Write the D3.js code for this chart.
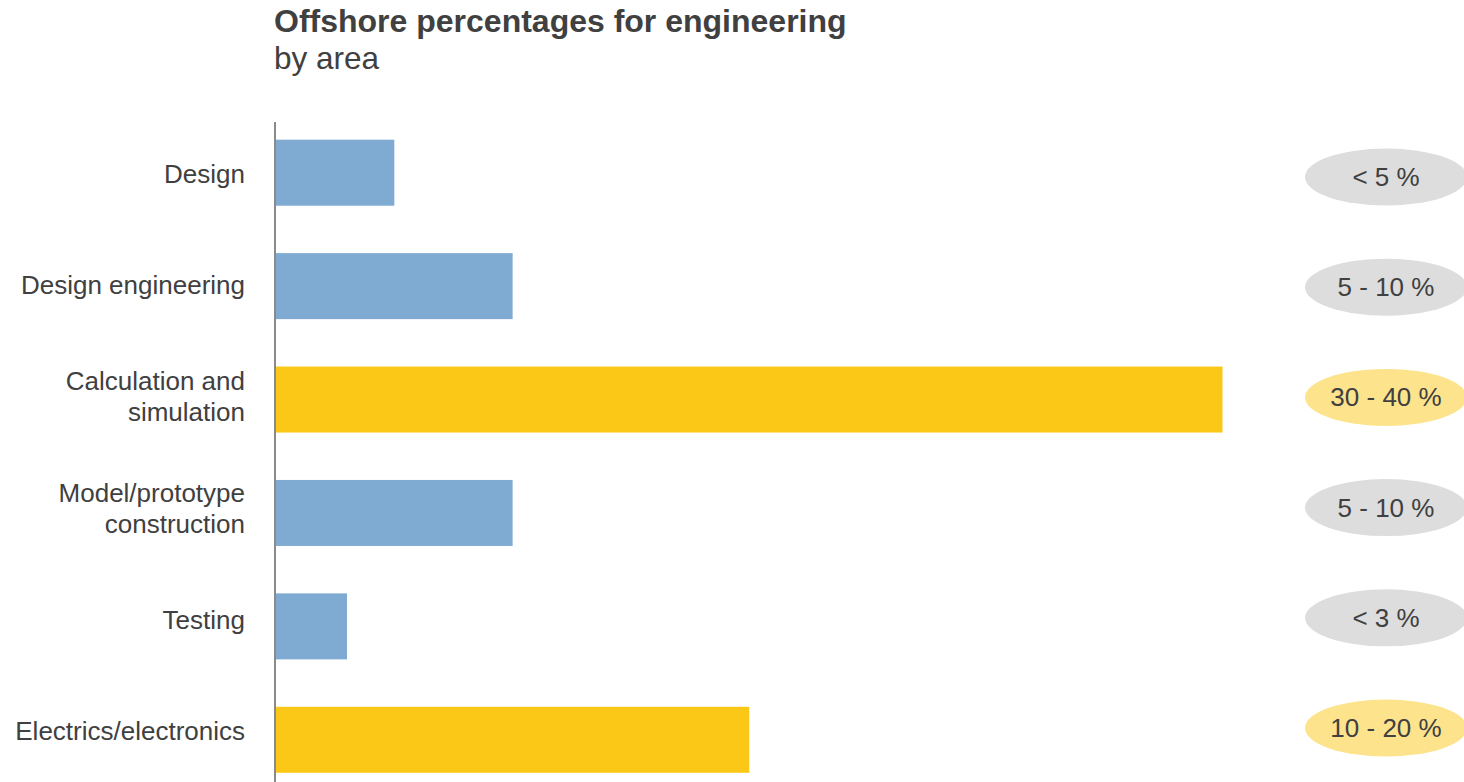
<!DOCTYPE html>
<html>
<head>
<meta charset="utf-8">
<script src="https://cdn.jsdelivr.net/npm/d3@7"></script>
<style>
  html, body { margin: 0; padding: 0; background: #ffffff; }
  svg { display: block; font-family: "Liberation Sans", Arial, sans-serif; }
</style>
</head>
<body>
<svg id="chart" width="1464" height="782"></svg>
<script>
// ---- data ----
const categories = [
  "Design",
  "Design engineering",
  "Calculation and simulation",
  "Model/prototype construction",
  "Testing",
  "Electrics/electronics"
];
const labelLines = [
  ["Design"],
  ["Design engineering"],
  ["Calculation and", "simulation"],
  ["Model/prototype", "construction"],
  ["Testing"],
  ["Electrics/electronics"]
];
const values = [5, 10, 40, 10, 3, 20];          // upper bound of offshore share, %
const rangeLabels = ["< 5 %", "5 - 10 %", "30 - 40 %", "5 - 10 %", "< 3 %", "10 - 20 %"];
const highlighted = [false, false, true, false, false, true];
const title = "Offshore percentages for engineering";
const subtitle = "by area";

// ---- styles ----
const textColor = "#404040";
const barBlue = "#7FAAD2";
const barYellow = "#FCC817";
const pillGray = "#DDDDDD";
const pillYellow = "#FDE38C";

const svg = d3.select("#chart");
const W = 1464, H = 782;
svg.append("rect").attr("width", W).attr("height", H).attr("fill", "#fff");

// title
svg.append("text").attr("x", 274).attr("y", 32)
  .attr("font-size", 32).attr("font-weight", "bold").attr("fill", textColor)
  .text(title);
svg.append("text").attr("x", 274).attr("y", 69)
  .attr("font-size", 31.5).attr("fill", textColor)
  .text(subtitle);

// scales
const x = d3.scaleLinear().domain([0, 40]).range([276, 1222.5]);
const y = d3.scaleBand().domain(categories).range([116, 796.5])
  .paddingInner(0.418).paddingOuter(0.209);
const yLabel = d3.scalePoint().domain(categories).range([174, 731]);
const yPill = d3.scalePoint().domain(categories).range([177, 728]);

const rows = categories.map((c, i) => ({
  cat: c, lines: labelLines[i], value: values[i], range: rangeLabels[i], hi: highlighted[i]
}));

// bars
svg.append("g").selectAll("rect").data(rows).join("rect")
  .attr("x", x(0))
  .attr("y", d => y(d.cat))
  .attr("width", d => x(d.value) - x(0))
  .attr("height", y.bandwidth())
  .attr("fill", d => d.hi ? barYellow : barBlue);

// axis line
svg.append("line")
  .attr("x1", 275).attr("x2", 275)
  .attr("y1", 122).attr("y2", H)
  .attr("stroke", "#8a8a8a").attr("stroke-width", 2);

// category labels
const lineH = 31;
const lab = svg.append("g").selectAll("text").data(rows).join("text")
  .attr("text-anchor", "end")
  .attr("font-size", 26)
  .attr("fill", textColor)
  .attr("x", 245)
  .attr("y", d => yLabel(d.cat));
lab.selectAll("tspan").data(d => d.lines.map((t, j) => ({ t, j, n: d.lines.length })))
  .join("tspan")
  .attr("x", 245)
  .attr("dy", d => d.j === 0 ? (9 - (d.n - 1) * lineH / 2) : lineH)
  .text(d => d.t);

// range pills
const pills = svg.append("g").selectAll("g").data(rows).join("g")
  .attr("transform", d => `translate(1386,${yPill(d.cat)})`);
pills.append("ellipse")
  .attr("rx", 81).attr("ry", 28.5)
  .attr("fill", d => d.hi ? pillYellow : pillGray);
pills.append("text")
  .attr("text-anchor", "middle")
  .attr("dy", 9)
  .attr("font-size", 26)
  .attr("fill", textColor)
  .text(d => d.range);
</script>
</body>
</html>
